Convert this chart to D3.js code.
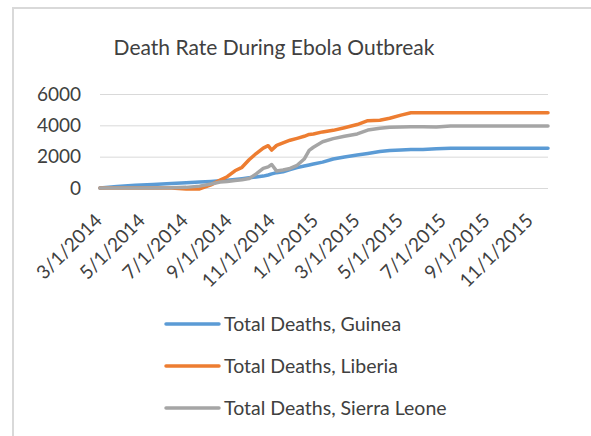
<!DOCTYPE html>
<html>
<head>
<meta charset="utf-8">
<script src="https://cdn.jsdelivr.net/npm/d3@7"></script>
<style>
  body { margin: 0; background: #fff; }
  text { font-family: Lato, "Open Sans", sans-serif; fill: #404040; }
</style>
</head>
<body>
<script>
// sample dates, shared by the three series
var dates = ["2014-03-01", "2014-03-25", "2014-04-20", "2014-05-15", "2014-06-10", "2014-07-01",
  "2014-07-20", "2014-08-05", "2014-08-18", "2014-08-28", "2014-09-08", "2014-09-18", "2014-09-28",
  "2014-10-08", "2014-10-18", "2014-10-25", "2014-10-30", "2014-11-06", "2014-11-15", "2014-11-25",
  "2014-12-05", "2014-12-15", "2014-12-22", "2014-12-28", "2015-01-10", "2015-01-25", "2015-02-10",
  "2015-02-28", "2015-03-15", "2015-04-01", "2015-04-15", "2015-05-01", "2015-05-15", "2015-06-01",
  "2015-06-20", "2015-07-10", "2015-08-01", "2015-09-01", "2015-10-01", "2015-11-01", "2015-11-25"];

var guinea = [0, 100, 170, 230, 280, 330, 380, 420, 460, 490, 540, 590, 650, 700, 760, 830, 900,
  980, 1040, 1180, 1300, 1400, 1470, 1530, 1650, 1850, 1980, 2100, 2200, 2330, 2400, 2430, 2450,
  2450, 2500, 2530, 2530, 2530, 2530, 2530, 2530];

var liberia = [0, 0, 0, 0, 0, -60, -60, 200, 500, 720, 1100, 1320, 1800, 2200, 2550, 2700, 2420,
  2720, 2880, 3050, 3170, 3300, 3420, 3450, 3580, 3680, 3850, 4050, 4300, 4330, 4450, 4650, 4800,
  4800, 4800, 4800, 4800, 4800, 4800, 4800, 4800];

var sierraLeone = [0, 0, 0, 0, 10, 40, 120, 250, 380, 420, 480, 530, 600, 900, 1250, 1350, 1500,
  1080, 1150, 1250, 1450, 1850, 2400, 2600, 2950, 3150, 3300, 3450, 3700, 3820, 3880, 3900, 3910,
  3910, 3890, 3960, 3960, 3960, 3960, 3960, 3960];

var seriesNames = ["Total Deaths, Guinea", "Total Deaths, Liberia", "Total Deaths, Sierra Leone"];
var seriesColors = ["#5B9BD5", "#ED7D31", "#A5A5A5"];
var yTicks = [0, 2000, 4000, 6000];
var xTickLabels = ["3/1/2014", "5/1/2014", "7/1/2014", "9/1/2014", "11/1/2014", "1/1/2015",
  "3/1/2015", "5/1/2015", "7/1/2015", "9/1/2015", "11/1/2015"];

var parseDate = d3.timeParse("%Y-%m-%d");
var parseTick = d3.timeParse("%m/%d/%Y");

var allSeries = [guinea, liberia, sierraLeone].map(function (vals, i) {
  return {
    name: seriesNames[i],
    color: seriesColors[i],
    values: vals.map(function (v, j) { return { date: parseDate(dates[j]), value: v }; })
  };
});

var w = 591, h = 436;
var svg = d3.select("body").append("svg")
  .attr("width", w)
  .attr("height", h);

// chart frame (only left and top edges fall inside the picture)
svg.append("rect")
  .attr("x", 13).attr("y", 8)
  .attr("width", 640).attr("height", 480)
  .attr("fill", "none")
  .attr("stroke", "#d9d9d9")
  .attr("stroke-width", 2);

svg.append("text")
  .attr("x", 274)
  .attr("y", 55)
  .attr("text-anchor", "middle")
  .style("font-size", "21px")
  .style("fill", "#404040")
  .text("Death Rate During Ebola Outbreak");

var xScale = d3.scaleTime()
  .domain([parseDate(dates[0]), parseDate(dates[dates.length - 1])])
  .range([100, 548]);

var yScale = d3.scaleLinear()
  .domain([0, 6000])
  .range([188, 94]);

// gridlines
svg.append("g")
  .selectAll("line")
  .data(yTicks)
  .enter()
  .append("line")
  .attr("x1", 100)
  .attr("x2", 548)
  .attr("y1", function (d) { return yScale(d) + 0.5; })
  .attr("y2", function (d) { return yScale(d) + 0.5; })
  .attr("stroke", "#d9d9d9")
  .attr("stroke-width", 1);

var yAxis = d3.axisLeft(yScale)
  .tickValues(yTicks)
  .tickFormat(d3.format("d"))
  .tickSize(0)
  .tickPadding(0);
var yg = svg.append("g")
  .attr("transform", "translate(81,0)")
  .call(yAxis);
yg.select(".domain").remove();
yg.selectAll("text")
  .style("font-size", "19px")
  .style("font-family", "Lato, sans-serif")
  .attr("fill", "#595959");

var xAxis = d3.axisBottom(xScale)
  .tickValues(xTickLabels.map(function (s) { return parseTick(s); }))
  .tickFormat(function (d, i) { return xTickLabels[i]; })
  .tickSize(0);
var xg = svg.append("g")
  .attr("transform", "translate(0,188)")
  .call(xAxis);
xg.select(".domain").remove();
xg.selectAll("text")
  .style("font-size", "19px")
  .style("font-family", "Lato, sans-serif")
  .attr("fill", "#595959")
  .attr("text-anchor", "end")
  .attr("y", 0)
  .attr("dy", "0.35em")
  .attr("transform", "translate(-2,29) rotate(-45)");

var line = d3.line()
  .x(function (d) { return xScale(d.date); })
  .y(function (d) { return yScale(d.value); });

svg.append("g")
  .selectAll("path")
  .data(allSeries)
  .enter()
  .append("path")
  .attr("d", function (d) { return line(d.values); })
  .attr("fill", "none")
  .attr("stroke", function (d) { return d.color; })
  .attr("stroke-width", 3.5)
  .attr("stroke-linejoin", "round")
  .attr("stroke-linecap", "round");

// legend
var legend = svg.append("g")
  .selectAll("g")
  .data(allSeries)
  .enter()
  .append("g")
  .attr("transform", function (d, i) { return "translate(0," + (324 + i * 42) + ")"; });

legend.append("line")
  .attr("x1", 166).attr("x2", 219)
  .attr("y1", 0).attr("y2", 0)
  .attr("stroke", function (d) { return d.color; })
  .attr("stroke-width", 3.5)
  .attr("stroke-linecap", "round");

legend.append("text")
  .attr("x", 224)
  .attr("y", 0)
  .attr("dy", "0.35em")
  .style("font-size", "19.5px")
  .attr("fill", "#404040")
  .text(function (d) { return d.name; });
</script>
</body>
</html>
